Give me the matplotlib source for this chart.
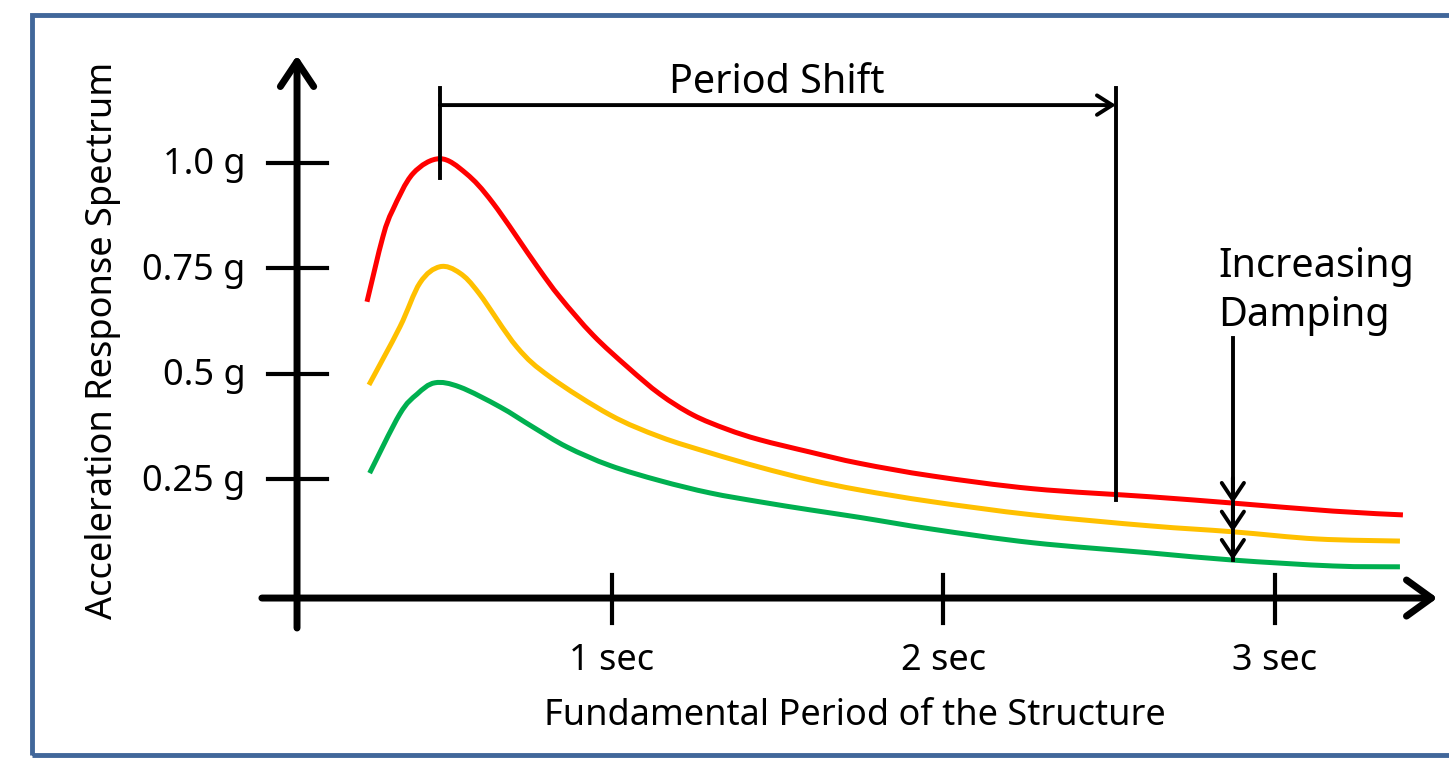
import numpy as np
import matplotlib.pyplot as plt
from matplotlib.patches import Rectangle, PathPatch
from matplotlib.path import Path

plt.rcParams['font.family'] = ['Noto Sans', 'DejaVu Sans']

# spectrum curves (period in sec, acceleration in g)
red_t = [0.261, 0.309, 0.339, 0.40, 0.481, 0.56, 0.641, 0.774, 0.843, 0.943, 1.049,
         1.145, 1.244, 1.347, 1.446, 1.597, 1.748, 1.968, 2.270, 2.623, 2.873, 3.175, 3.386]
red_a = [0.671, 0.825, 0.889, 0.975, 1.01, 0.975, 0.905, 0.755, 0.682, 0.592, 0.515,
         0.452, 0.403, 0.369, 0.344, 0.315, 0.288, 0.258, 0.228, 0.209, 0.194, 0.175, 0.166]

yel_t = [0.267, 0.36, 0.421, 0.481, 0.541, 0.60, 0.713, 0.813, 0.994, 1.145, 1.296,
         1.446, 1.597, 1.748, 1.968, 2.270, 2.623, 2.873, 3.127, 3.377]
yel_a = [0.474, 0.611, 0.716, 0.754, 0.739, 0.69, 0.564, 0.493, 0.403, 0.351, 0.313,
         0.279, 0.249, 0.225, 0.197, 0.166, 0.140, 0.126, 0.109, 0.104]

grn_t = [0.269, 0.36, 0.412, 0.466, 0.541, 0.662, 0.762, 0.864, 0.994, 1.145, 1.296,
         1.446, 1.597, 1.748, 1.968, 2.270, 2.623, 2.873, 3.175, 3.377]
grn_a = [0.265, 0.405, 0.452, 0.479, 0.469, 0.422, 0.374, 0.327, 0.283, 0.247, 0.218,
         0.197, 0.178, 0.160, 0.132, 0.100, 0.076, 0.059, 0.045, 0.043]

y_ticks = [1.0, 0.75, 0.5, 0.25]
y_labels = ['1.0 g', '0.75 g', '0.5 g', '0.25 g']
x_ticks = [1, 2, 3]
x_labels = ['1 sec', '2 sec', '3 sec']


def smooth_path(xs, ys):
    # Catmull-Rom through the points, drawn as cubic Bezier segments
    p = np.column_stack([xs, ys])
    verts = [p[0]]
    codes = [Path.MOVETO]
    for i in range(len(p) - 1):
        p0 = p[i - 1] if i > 0 else p[i]
        p3 = p[i + 2] if i + 2 < len(p) else p[i + 1]
        c1 = p[i] + (p[i + 1] - p0) / 6
        c2 = p[i + 1] - (p3 - p[i]) / 6
        verts += [c1, c2, p[i + 1]]
        codes += [Path.CURVE4] * 3
    return Path(verts, codes)


fig = plt.figure(figsize=(14.49, 7.58), dpi=100)
ax = fig.add_axes([0, 0, 1, 1])
ax.set_xlim(-0.846, 3.525)
ax.set_ylim(-0.41, 1.386)
ax.axis('off')

# blue frame
fig.patches.append(Rectangle((32 / 1449, 3 / 758), 1.1, 740 / 758, transform=fig.transFigure,
                             fill=False, edgecolor='#41679a', lw=3.5))

for xs, ys, c in [(red_t, red_a, '#ff0000'), (yel_t, yel_a, '#ffc000'), (grn_t, grn_a, '#00b050')]:
    ax.add_patch(PathPatch(smooth_path(xs, ys), fill=False, edgecolor=c, lw=3.6,
                           joinstyle='round', capstyle='butt'))

# axes with arrow heads
x0, y0 = 0.05, -0.031
ax.annotate('', xy=(3.49, y0), xytext=(-0.056, y0),
            arrowprops=dict(arrowstyle='->, head_length=0.9, head_width=0.65', lw=5,
                            color='black', shrinkA=0, shrinkB=0, mutation_scale=20,
                            capstyle='round', joinstyle='round'))
ax.annotate('', xy=(x0, 1.255), xytext=(x0, -0.102),
            arrowprops=dict(arrowstyle='->, head_length=0.9, head_width=0.6', lw=5,
                            color='black', shrinkA=0, shrinkB=0, mutation_scale=20))

for v, lab in zip(y_ticks, y_labels):
    ax.plot([-0.037, 0.141], [v, v], color='black', lw=3)
    ax.text(-0.105, v - 0.005, lab, ha='right', va='center', fontsize=26)

for v, lab in zip(x_ticks, x_labels):
    ax.plot([v, v], [0.024, -0.09], color='black', lw=3)
    ax.text(v, -0.18, lab, ha='center', va='center', fontsize=26)

ax.text(1.733, -0.31, 'Fundamental Period of the Structure', ha='center', va='center', fontsize=26)
ax.text(-0.535, 0.58, 'Acceleration Response Spectrum', ha='center', va='center',
        rotation=90, fontsize=26)

# period shift
ps_start, ps_end = 0.481, 2.52
ax.plot([ps_start, ps_start], [1.177, 0.964], color='black', lw=2.8)
ax.plot([ps_end, ps_end], [1.177, 0.202], color='black', lw=2.8)
ax.annotate('', xy=(ps_end, 1.137), xytext=(ps_start, 1.137),
            arrowprops=dict(arrowstyle='->, head_length=0.55, head_width=0.35', lw=2.8,
                            color='black', shrinkA=0, shrinkB=0, mutation_scale=20))
ax.text(1.498, 1.19, 'Period Shift', ha='center', va='center', fontsize=28.5)

# increasing damping
dx = 2.873
ax.text(2.828, 0.695, 'Increasing\nDamping', ha='left', va='center', fontsize=28.5,
        linespacing=1.3)
ax.plot([dx, dx], [0.585, 0.06], color='black', lw=2.8)
for yy in [0.194, 0.126, 0.059]:
    ax.annotate('', xy=(dx, yy), xytext=(dx, yy + 0.06),
                arrowprops=dict(arrowstyle='->, head_length=0.6, head_width=0.4', lw=2.8,
                                color='black', shrinkA=0, shrinkB=0, mutation_scale=20))

fig.savefig('out.png', dpi=100)
